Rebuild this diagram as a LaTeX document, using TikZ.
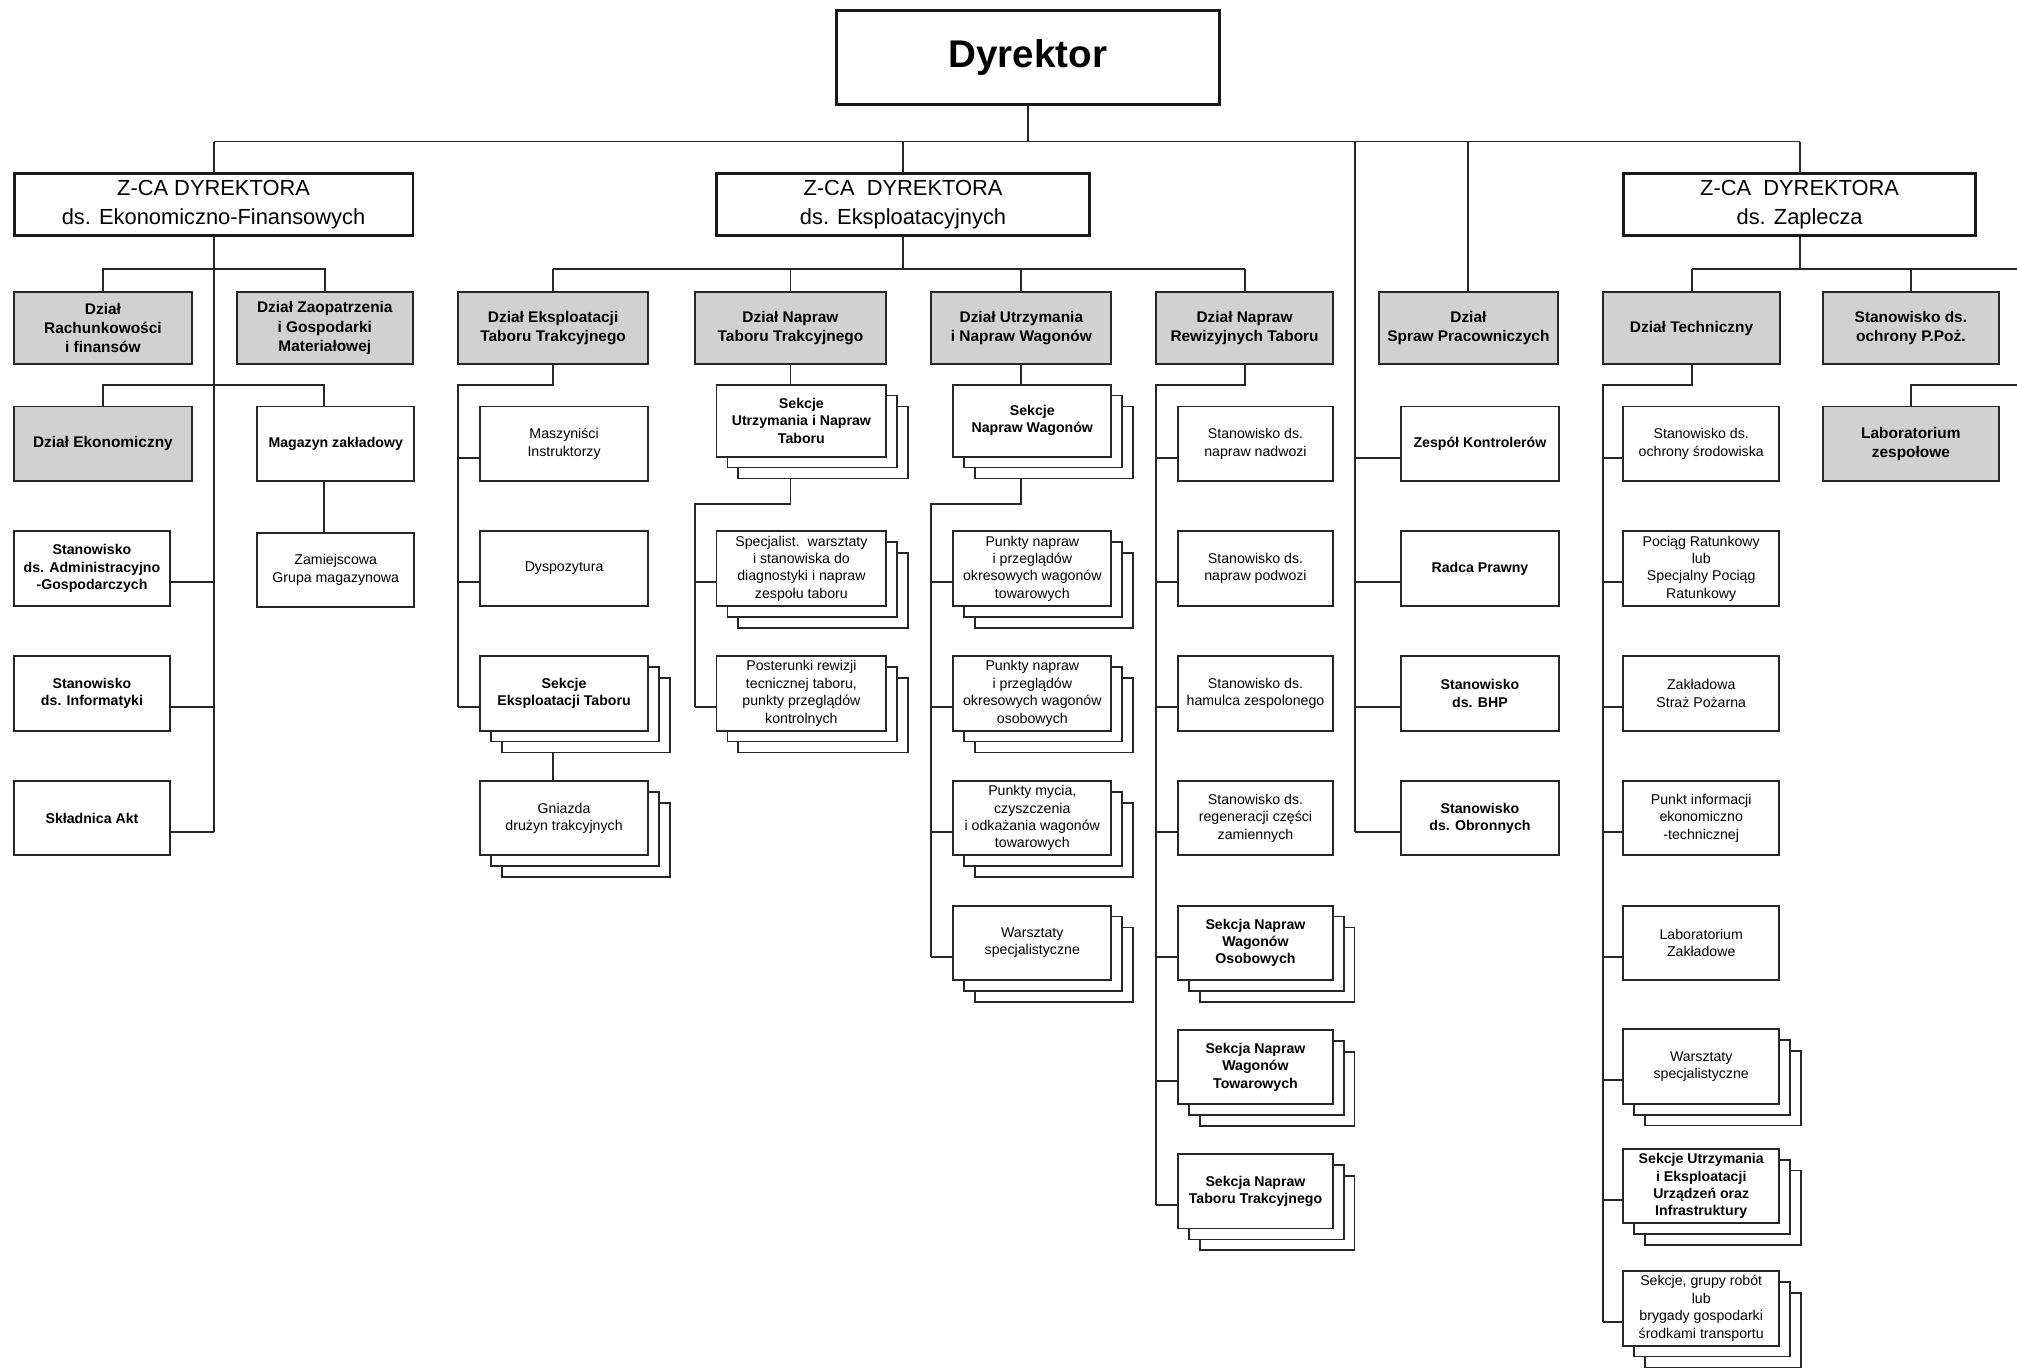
\documentclass[tikz,border=0pt]{standalone}
\usepackage{fontspec}
\setmainfont{Liberation Sans}
\newcommand\stk[4]{%
  \draw[layer] ({#1-#3/2+17},{#2-#4/2+17}) rectangle ++(#3,#4);
  \draw[layer] ({#1-#3/2+8.5},{#2-#4/2+8.5}) rectangle ++(#3,#4);}
\newcommand\connW[2]{\coordinate (#1c) at ([yshift=19pt]#1.south west); \draw[conn] (#1c) -- (#1c -| #2);}
\newcommand\connE[2]{\coordinate (#1c) at ([yshift=19pt]#1.south east); \draw[conn] (#1c) -- (#1c -| #2);}
\begin{document}
\begin{tikzpicture}[x=1pt,y=-1pt,
  conn/.style={line width=1.5pt, draw=black!85},
  bx/.style={draw=black!85, line width=1.5pt, fill=white, align=center, inner sep=1pt, minimum height=58pt, font=\fontsize{11}{13.5}\selectfont},
  bxb/.style={bx, font=\fontsize{11}{13.5}\selectfont\bfseries},
  dz/.style={bx, fill=black!18, minimum height=56pt, font=\fontsize{12}{15}\selectfont\bfseries},
  zca/.style={draw=black!90, line width=2.2pt, fill=white, align=center, minimum height=48pt, inner sep=1pt, font=\fontsize{17}{22}\selectfont},
  layer/.style={draw=black!85, line width=1.4pt, fill=white},
  wA/.style={minimum width=121pt},
  wB/.style={minimum width=131pt},
  wC/.style={minimum width=132pt},
  wD/.style={minimum width=123pt},
  wE/.style={minimum width=120pt}]
\useasboundingbox (0,0) rectangle (1568,1063);
\fill[white] (0,0) rectangle (1568,1063);

\coordinate (B0) at (0,110);
\coordinate (B1) at (0,209);
\coordinate (B2) at (0,299);
\coordinate (B3) at (0,392);
\coordinate (S2) at (356,0);
\coordinate (S3) at (540,0);
\coordinate (S4) at (724,0);
\coordinate (S5) at (899,0);
\coordinate (S6) at (1053,0);
\coordinate (S7) at (1246,0);
\coordinate (XE) at (1568,0);

% ---- top levels
\node[draw=black!90, line width=2.2pt, fill=white, minimum width=298pt, minimum height=73pt, font=\fontsize{30}{36}\selectfont\bfseries] (dyr) at (799,44.5) {Dyrektor};
\node[zca, minimum width=310pt] (zef) at (166,159) {Z-CA DYREKTORA\\ds. Ekonomiczno-Finansowych};
\node[zca, minimum width=290pt] (zex) at (702,159) {Z-CA\ \ DYREKTORA\\ds. Eksploatacyjnych};
\node[zca, minimum width=274pt] (zz) at (1399,159) {Z-CA\ \ DYREKTORA\\ds. Zaplecza};

% ---- departments
\node[dz, minimum width=138pt] (drf) at (80,255) {Dział\\Rachunkowości\\i finansów};
\node[dz, minimum width=137pt] (dzm) at (252.5,255) {Dział Zaopatrzenia\\i Gospodarki\\Materiałowej};
\node[dz, minimum width=148pt] (dek) at (430,255) {Dział Eksploatacji\\Taboru Trakcyjnego};
\node[dz, minimum width=149pt] (dnt) at (614.5,255) {Dział Napraw\\Taboru Trakcyjnego};
\node[dz, minimum width=140pt] (duw) at (794,255) {Dział Utrzymania\\i Napraw Wagonów};
\node[dz, minimum width=137pt] (dnr) at (967.5,255) {Dział Napraw\\Rewizyjnych Taboru};
\node[dz, minimum width=139pt] (dsp) at (1141.5,255) {Dział\\Spraw Pracowniczych};
\node[dz, minimum width=138pt] (dte) at (1315,255) {Dział Techniczny};
\node[dz, minimum width=137pt] (ppz) at (1485.5,255) {Stanowisko ds.\\ochrony P.Poż.};

% ---- left block
\node[dz, minimum width=138pt, minimum height=58pt] (dekon) at (80,345) {Dział Ekonomiczny};
\node[bxb, minimum width=122pt] (mag) at (261,345) {Magazyn zakładowy};
\node[bx, minimum width=122pt] (zam) at (261,443) {Zamiejscowa\\Grupa magazynowa};
\node[bxb, wA] (adm) at (71.5,442) {Stanowisko\\ds. Administracyjno\\-Gospodarczych};
\node[bxb, wA] (inf) at (71.5,539) {Stanowisko\\ds. Informatyki};
\node[bxb, wA] (skl) at (71.5,636) {Składnica Akt};

% ---- Dział Eksploatacji
\node[bx, wB] (mi) at (438.5,345) {Maszyniści\\Instruktorzy};
\node[bx, wB] (dys) at (438.5,442) {Dyspozytura};
\stk{438.5}{539}{131}{58}
\node[bxb, wB] (sek) at (438.5,539) {Sekcje\\Eksploatacji Taboru};
\stk{438.5}{636}{131}{58}
\node[bx, wB] (gn) at (438.5,636) {Gniazda\\drużyn trakcyjnych};

% ---- Dział Napraw Taboru
\stk{623}{327}{132}{56}
\node[bxb, wC, minimum height=56pt] (sut) at (623,327) {Sekcje\\Utrzymania i Napraw\\Taboru};
\stk{623}{442}{132}{58}
\node[bx, wC] (spw) at (623,442) {Specjalist.\ \ warsztaty\\i stanowiska do\\diagnostyki i napraw\\zespołu taboru};
\stk{623}{539}{132}{58}
\node[bx, wC] (pos) at (623,539) {Posterunki rewizji\\tecnicznej taboru,\\punkty przeglądów\\kontrolnych};

% ---- Dział Utrzymania i Napraw Wagonów
\stk{802.5}{327}{123}{56}
\node[bxb, wD, minimum height=56pt] (snw) at (802.5,327) {Sekcje\\Napraw Wagonów};
\stk{802.5}{442}{123}{58}
\node[bx, wD] (pnt) at (802.5,442) {Punkty napraw\\i przeglądów\\okresowych wagonów\\towarowych};
\stk{802.5}{539}{123}{58}
\node[bx, wD] (pno) at (802.5,539) {Punkty napraw\\i przeglądów\\okresowych wagonów\\osobowych};
\stk{802.5}{636}{123}{58}
\node[bx, wD] (pmy) at (802.5,636) {Punkty mycia,\\czyszczenia\\i odkażania wagonów\\towarowych};
\stk{802.5}{733}{123}{58}
\node[bx, wD] (war) at (802.5,733) {Warsztaty\\specjalistyczne};

% ---- Dział Napraw Rewizyjnych
\node[bx, wE] (snn) at (976,345) {Stanowisko ds.\\napraw nadwozi};
\node[bx, wE] (snp) at (976,442) {Stanowisko ds.\\napraw podwozi};
\node[bx, wE] (shz) at (976,539) {Stanowisko ds.\\hamulca zespolonego};
\node[bx, wE] (src) at (976,636) {Stanowisko ds.\\regeneracji części\\zamiennych};
\stk{976}{733}{120}{58}
\node[bxb, wE] (sno) at (976,733) {Sekcja Napraw\\Wagonów\\Osobowych};
\stk{976}{829.5}{120}{58}
\node[bxb, wE] (snt) at (976,829.5) {Sekcja Napraw\\Wagonów\\Towarowych};
\stk{976}{926}{120}{58}
\node[bxb, wE] (stt) at (976,926) {Sekcja Napraw\\Taboru Trakcyjnego};

% ---- staff column
\node[bxb, wD] (zk) at (1150.5,345) {Zespół Kontrolerów};
\node[bxb, wD] (rp) at (1150.5,442) {Radca Prawny};
\node[bxb, wD] (bhp) at (1150.5,539) {Stanowisko\\ds. BHP};
\node[bxb, wD] (obr) at (1150.5,636) {Stanowisko\\ds. Obronnych};

% ---- Dział Techniczny
\node[bx, wA] (sos) at (1322.5,345) {Stanowisko ds.\\ochrony środowiska};
\node[bx, wA] (prat) at (1322.5,442) {Pociąg Ratunkowy\\lub\\Specjalny Pociąg\\Ratunkowy};
\node[bx, wA] (zsp) at (1322.5,539) {Zakładowa\\Straż Pożarna};
\node[bx, wA] (pie) at (1322.5,636) {Punkt informacji\\ekonomiczno\\-technicznej};
\node[bx, wA] (lz) at (1322.5,733) {Laboratorium\\Zakładowe};
\stk{1322.5}{829}{121}{58}
\node[bx, wA] (wsp) at (1322.5,829) {Warsztaty\\specjalistyczne};
\stk{1322.5}{922}{121}{58}
\node[bxb, wA] (sue) at (1322.5,922) {Sekcje Utrzymania\\i Eksploatacji\\Urządzeń oraz\\Infrastruktury};
\stk{1322.5}{1017}{121}{58}
\node[bx, wA] (sgr) at (1322.5,1017) {Sekcje, grupy robót\\lub\\brygady gospodarki\\środkami transportu};

\node[dz, minimum width=137pt, minimum height=58pt] (lzp) at (1485.5,345) {Laboratorium\\zespołowe};

% ================= connectors
\draw[conn] (dyr.south) -- (dyr.south |- B0);
\draw[conn] (zef.north |- B0) -- (zz.north |- B0);
\draw[conn] (zef.north) -- (zef.north |- B0);
\draw[conn] (zex.north) -- (zex.north |- B0);
\draw[conn] (zz.north) -- (zz.north |- B0);
\draw[conn] (dsp.north) -- (dsp.north |- B0);

% left block
\draw[conn] (drf.north) -- (drf.north |- B1) -- (dzm.north |- B1) -- (dzm.north);
\coordinate (magt) at ([xshift=-9pt]mag.north);
\draw[conn] (dekon.north) -- (dekon.north |- B2) -- (magt |- B2) -- (magt);
\draw[conn] ([xshift=-9pt]mag.south) -- ([xshift=-9pt]zam.north);
\connE{adm}{zef}
\connE{inf}{zef}
\connE{skl}{zef}
\draw[conn] (zef.south) -- (zef.south |- sklc);

% exploitation block
\draw[conn] (zex.south) -- (zex.south |- B1);
\draw[conn] (dek.north |- B1) -- (dnr.north |- B1);
\draw[conn] (dek.north) -- (dek.north |- B1);
\draw[conn] (dnt.north) -- (dnt.north |- B1);
\draw[conn] (duw.north) -- (duw.north |- B1);
\draw[conn] (dnr.north) -- (dnr.north |- B1);

\connW{mi}{S2}
\connW{dys}{S2}
\connW{sek}{S2}
\draw[conn] (dek.south) -- (dek.south |- B2) -- (S2 |- B2) -- (S2 |- sekc);
\draw[conn] ([xshift=-8.5pt,yshift=-17pt]sek.south) -- ([xshift=-8.5pt]gn.north);

\draw[conn] (dnt.south) -- (dnt.south |- sut.north);
\coordinate (sutb) at ([yshift=-17pt]sut.south);
\connW{spw}{S3}
\connW{pos}{S3}
\draw[conn] (sutb -| dnt.south) -- (B3 -| dnt.south) -- (B3 -| S3) -- (S3 |- posc);

\draw[conn] (duw.south) -- (duw.south |- snw.north);
\coordinate (snwb) at ([yshift=-17pt]snw.south);
\connW{pnt}{S4}
\connW{pno}{S4}
\connW{pmy}{S4}
\connW{war}{S4}
\draw[conn] (snwb -| duw.south) -- (B3 -| duw.south) -- (B3 -| S4) -- (S4 |- warc);

\connW{snn}{S5}
\connW{snp}{S5}
\connW{shz}{S5}
\connW{src}{S5}
\connW{sno}{S5}
\connW{snt}{S5}
\connW{stt}{S5}
\draw[conn] (dnr.south) -- (dnr.south |- B2) -- (S5 |- B2) -- (S5 |- sttc);

% staff column
\connW{zk}{S6}
\connW{rp}{S6}
\connW{bhp}{S6}
\connW{obr}{S6}
\draw[conn] (S6 |- B0) -- (S6 |- obrc);

% Zaplecze block
\draw[conn] (zz.south) -- (zz.south |- B1);
\draw[conn] (dte.north |- B1) -- (XE |- B1);
\draw[conn] (dte.north) -- (dte.north |- B1);
\draw[conn] (ppz.north) -- (ppz.north |- B1);
\draw[conn] (lzp.north) -- (lzp.north |- B2) -- (XE |- B2);

\connW{sos}{S7}
\connW{prat}{S7}
\connW{zsp}{S7}
\connW{pie}{S7}
\connW{lz}{S7}
\connW{wsp}{S7}
\connW{sue}{S7}
\connW{sgr}{S7}
\draw[conn] (dte.south) -- (dte.south |- B2) -- (S7 |- B2) -- (S7 |- sgrc);
\end{tikzpicture}
\end{document}
